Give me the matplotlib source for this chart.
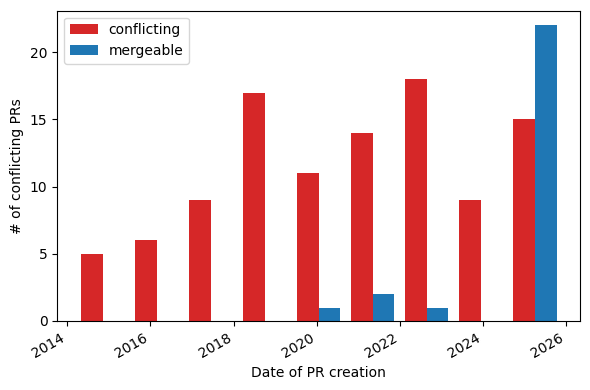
import numpy as np
import matplotlib.pyplot as plt
import matplotlib.dates as mdates
import datetime as dt

# Histogram of PR creation dates (9 bins)
first_pr = dt.datetime(2014, 3, 14)
last_pr = dt.datetime(2025, 11, 24)
n_bins = 9
conflicting_counts = [5, 6, 9, 17, 11, 14, 18, 9, 15]
mergeable_counts = [0, 0, 0, 0, 1, 2, 1, 0, 22]

edges = np.linspace(mdates.date2num(first_pr), mdates.date2num(last_pr), n_bins + 1)
centers = (edges[:-1] + edges[1:]) / 2

fig, ax = plt.subplots(figsize=(5.9, 3.9), dpi=100)
ax.hist([centers, centers], bins=edges,
        weights=[conflicting_counts, mergeable_counts],
        color=["tab:red", "tab:blue"], label=["conflicting", "mergeable"])
ax.xaxis_date()
ax.xaxis.set_major_locator(mdates.YearLocator(2))
ax.xaxis.set_major_formatter(mdates.DateFormatter("%Y"))
ax.set_xlabel("Date of PR creation")
ax.set_ylabel("# of conflicting PRs")
ax.legend(loc="upper left")
fig.autofmt_xdate()
fig.subplots_adjust(left=0.097, right=0.9836, top=0.9726, bottom=0.177)
fig.savefig("out.png")
